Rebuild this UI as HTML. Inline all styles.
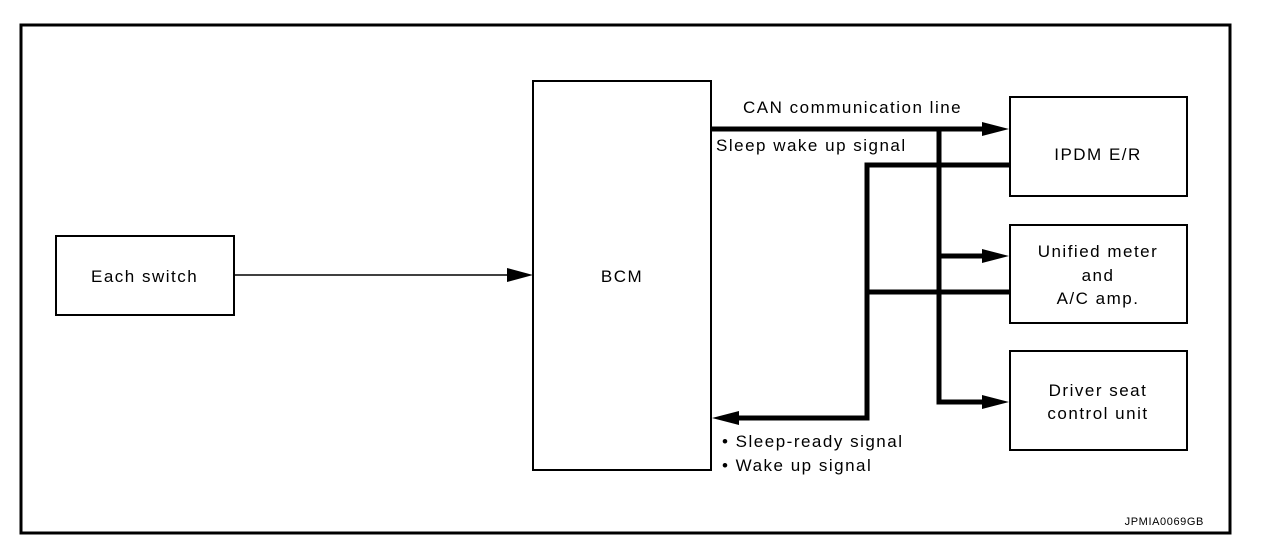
<!DOCTYPE html>
<html><head><style>
body{margin:0;background:#fff;}
svg text{font-family:"Liberation Sans",sans-serif;font-size:17px;letter-spacing:1.5px;fill:#000;}
</style></head><body>
<svg width="1264" height="550" viewBox="0 0 1264 550" xmlns="http://www.w3.org/2000/svg">
<rect x="21" y="25" width="1209" height="508" fill="none" stroke="#000" stroke-width="3"/>
<g fill="none" stroke="#000" stroke-width="2">
<rect x="56" y="236" width="178" height="79"/>
<rect x="533" y="81" width="178" height="389"/>
<rect x="1010" y="97" width="177" height="99"/>
<rect x="1010" y="225" width="177" height="98"/>
<rect x="1010" y="351" width="177" height="99"/>
</g>
<line x1="234" y1="275" x2="510" y2="275" stroke="#000" stroke-width="1.5"/>
<polygon points="533,275 507,268 507,282" fill="#000"/>
<g stroke="#000" stroke-width="5" fill="none">
<polyline points="711,129 985,129"/>
<polyline points="939,129 939,402 985,402"/>
<polyline points="939,256 985,256"/>
<polyline points="1010,165 867,165 867,418 737,418"/>
<polyline points="867,292 1010,292"/>
</g>
<g fill="#000">
<polygon points="1009,129 982,122 982,136"/>
<polygon points="1009,256 982,249 982,263"/>
<polygon points="1009,402 982,395 982,409"/>
<polygon points="712,418 739,411 739,425"/>
</g>
<text x="91" y="282">Each switch</text>
<text x="622" y="282" text-anchor="middle">BCM</text>
<text x="743" y="113">CAN communication line</text>
<text x="716" y="151">Sleep wake up signal</text>
<text x="1098" y="160" text-anchor="middle">IPDM E/R</text>
<text x="1098" y="257" text-anchor="middle">Unified meter</text>
<text x="1098" y="281" text-anchor="middle">and</text>
<text x="1098" y="304" text-anchor="middle">A/C amp.</text>
<text x="1098" y="396" text-anchor="middle">Driver seat</text>
<text x="1098" y="419" text-anchor="middle">control unit</text>
<text x="722" y="447">• Sleep-ready signal</text>
<text x="722" y="471">• Wake up signal</text>
<text x="1204" y="525" text-anchor="end" style="font-size:11px;letter-spacing:0.6px">JPMIA0069GB</text>
</svg>
</body></html>
